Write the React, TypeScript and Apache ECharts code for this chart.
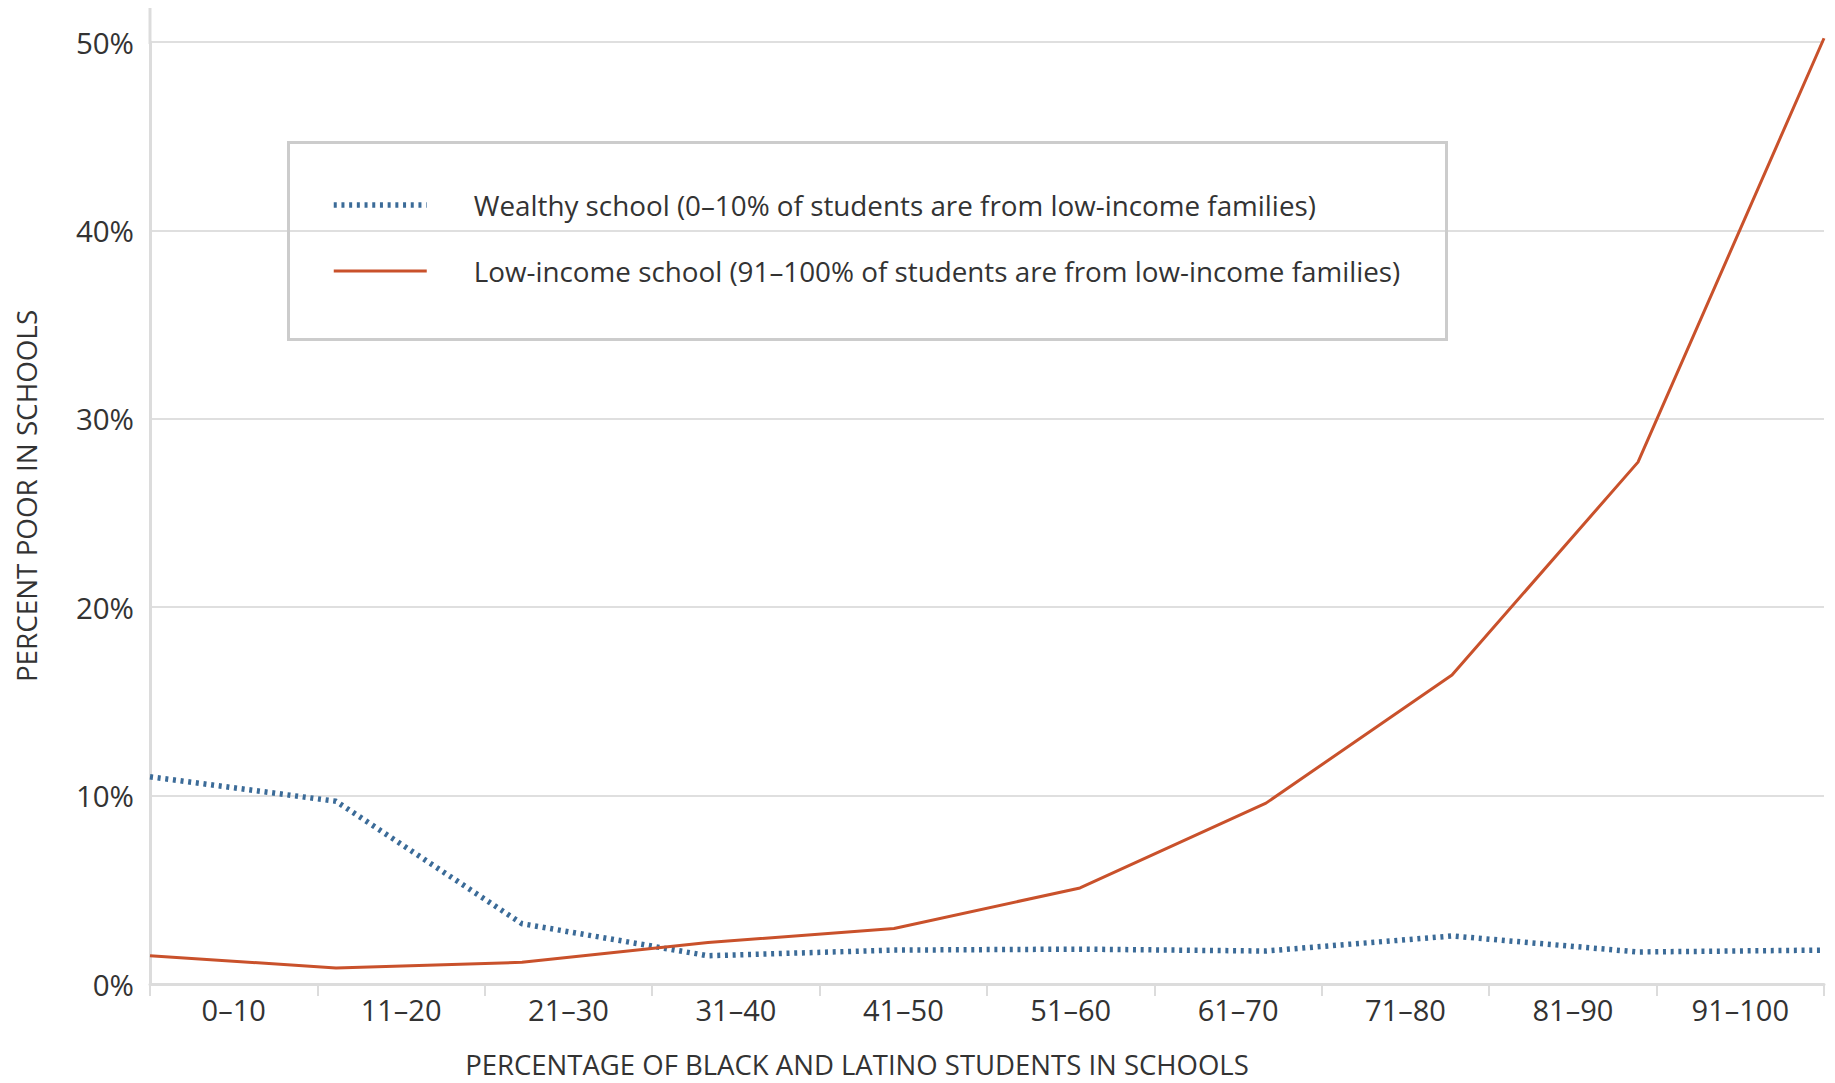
import React, { useEffect, useRef } from "react";
import * as echarts from "echarts";

const categories = ["0–10", "11–20", "21–30", "31–40", "41–50", "51–60", "61–70", "71–80", "81–90", "91–100"];
const wealthyValues = [11.0, 9.7, 3.2, 1.5, 1.8, 1.85, 1.75, 2.55, 1.7, 1.8];
const lowIncomeValues = [1.5, 0.85, 1.15, 2.2, 2.95, 5.1, 9.6, 16.4, 27.7, 50.2];
const seriesNames = [
  "Wealthy school (0–10% of students are from low-income families)",
  "Low-income school (91–100% of students are from low-income families)",
];
const xAxisTitle = "PERCENTAGE OF BLACK AND LATINO STUDENTS IN SCHOOLS";
const yAxisTitle = "PERCENT POOR IN SCHOOLS";

const FONT = "Open Sans";
const TEXT = "#333333";
const BLUE = "#3b6b98";
const RED = "#c9512b";
const AXIS = "#dcdcdc";

export default function App() {
  const ref = useRef<HTMLDivElement>(null);
  useEffect(() => {
    document.body.style.margin = "0";
    document.documentElement.style.overflow = "hidden";
    document.body.style.overflow = "hidden";
    const chart = echarts.init(ref.current!, null, { renderer: "svg" });
    chart.setOption({
      animation: false,
      backgroundColor: "#ffffff",
      textStyle: { fontFamily: FONT },
      grid: { left: 150, right: 11, top: 42, bottom: 96, containLabel: false },
      legend: {
        orient: "vertical",
        left: 331,
        top: 191,
        itemWidth: 93,
        itemHeight: 29,
        itemGap: 38,
        padding: 0,
        itemStyle: { opacity: 0 },
        lineStyle: { width: "inherit" },
        textStyle: { fontFamily: FONT, fontSize: 27.8, color: TEXT, padding: [0, 0, 0, 42] },
        data: seriesNames,
      },
      graphic: [
        {
          type: "rect",
          left: 286,
          top: 140,
          shape: { width: 1158, height: 197 },
          style: { fill: "none", stroke: "#cccccc", lineWidth: 3 },
          z: 10,
        },
        {
          type: "line",
          shape: { x1: 150, y1: 8, x2: 150, y2: 44 },
          style: { stroke: AXIS, lineWidth: 3 },
        },
      ],
      xAxis: [
        {
          type: "category",
          data: categories,
          boundaryGap: true,
          axisLine: { show: true, lineStyle: { color: AXIS, width: 3 } },
          axisTick: { show: true, length: 12, lineStyle: { color: AXIS, width: 2 } },
          axisLabel: { fontFamily: FONT, fontSize: 29, lineHeight: 30, color: TEXT, margin: 10 },
          name: xAxisTitle,
          nameLocation: "middle",
          nameGap: 70,
          nameTextStyle: {
            fontFamily: FONT,
            fontSize: 27.5,
            lineHeight: 20,
            color: TEXT,
            padding: [0, 260, 0, 0],
          },
        },
        {
          type: "category",
          data: categories,
          boundaryGap: false,
          show: false,
        },
      ],
      yAxis: {
        type: "value",
        min: 0,
        max: 50,
        interval: 10,
        axisLine: { show: true, lineStyle: { color: AXIS, width: 3 } },
        axisTick: { show: false },
        axisLabel: { fontFamily: FONT, fontSize: 29.5, color: TEXT, margin: 16, formatter: "{value}%" },
        splitLine: { show: true, lineStyle: { color: "#d4d4d4", width: 1.5 } },
        name: yAxisTitle,
        nameLocation: "middle",
        nameGap: 110,
        nameTextStyle: { fontFamily: FONT, fontSize: 27.8, lineHeight: 28, color: TEXT, padding: [0, 0, 0, 34] },
      },
      series: [
        {
          name: seriesNames[0],
          type: "line",
          xAxisIndex: 1,
          data: wealthyValues,
          symbol: "none",
          clip: false,
          lineStyle: { color: BLUE, width: 5.5, type: [3, 4.7] },
          itemStyle: { color: BLUE },
          z: 3,
        },
        {
          name: seriesNames[1],
          type: "line",
          xAxisIndex: 1,
          data: lowIncomeValues,
          symbol: "none",
          clip: false,
          lineStyle: { color: RED, width: 3 },
          itemStyle: { color: RED },
          z: 4,
        },
      ],
    });
    return () => chart.dispose();
  }, []);
  return <div ref={ref} style={{ width: 1835, height: 1083, overflow: "hidden" }} />;
}
